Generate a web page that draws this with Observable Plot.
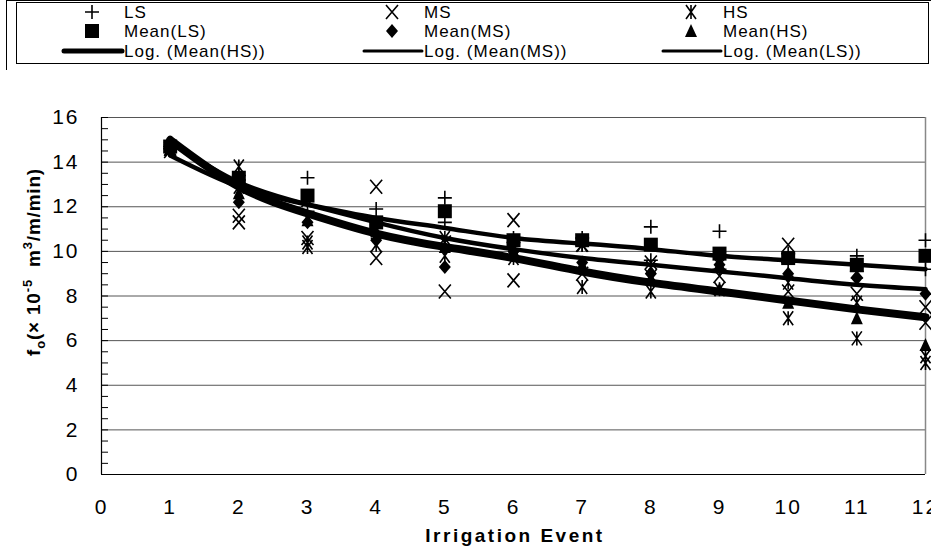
<!DOCTYPE html>
<html><head><meta charset="utf-8">
<script src="https://cdn.jsdelivr.net/npm/d3@7"></script>
<script src="https://cdn.jsdelivr.net/npm/@observablehq/plot@0.6"></script>
<style>
body{margin:0;background:#fff;font-family:"Liberation Sans",Arial,sans-serif;}
#wrap{position:relative;width:931px;height:554px;overflow:hidden;background:#fff;}
#frame{position:absolute;left:6px;top:0px;width:960px;height:600px;border-left:1px solid #000;border-top:1px solid #000;}
#legend{position:absolute;left:0;top:0;}
#chart{position:absolute;left:0;top:70px;}
</style></head><body>
<div id="wrap"><div id="frame"></div><svg id="legend" width="931" height="70"></svg><div id="chart"></div></div>
<script>
// ---- data ----
const events = [1,2,3,4,5,6,7,8,9,10,11,12];
const xTicks = [0,1,2,3,4,5,6,7,8,9,10,11,12];
const yTicks = [0,2,4,6,8,10,12,14,16];
// individual replicates
const LS_a = [14.6, 13.2, 13.3, 11.9, 12.4, 10.6, 10.6, 11.1, 10.9, 9.9, 9.8, 10.5];
const LS_b = [14.7, 13.4, 11.8, 10.8, 11.3, 10.4, 10.3, 9.6, 9.2, 9.5, 9.1, 9.2];
const MS_a = [14.6, 11.6, 12.3, 12.9, 10.4, 11.4, 10.3, 9.5, 9.4, 10.3, 9.1, 7.5];
const MS_b = [14.5, 11.3, 10.6, 9.7, 8.2, 8.7, 9.0, 8.9, 8.9, 8.2, 8.1, 6.8];
const HS_a = [14.6, 13.8, 10.4, 11.0, 10.6, 10.1, 10.3, 9.3, 9.5, 8.6, 7.7, 5.3];
const HS_b = [14.6, 12.9, 10.2, 10.3, 9.8, 9.7, 8.4, 8.2, 8.3, 7.0, 6.1, 5.0];
// means
const MeanLS = [14.7, 13.3, 12.5, 11.3, 11.8, 10.5, 10.5, 10.3, 9.9, 9.7, 9.4, 9.8];
const MeanMS = [14.5, 12.2, 11.3, 10.5, 9.3, 10.0, 9.5, 9.0, 9.4, 9.0, 8.8, 8.1];
const MeanHS = [14.6, 12.6, 11.4, 10.9, 10.2, 10.0, 9.4, 8.8, 8.3, 7.7, 7.0, 5.8];
// logarithmic trend lines, read at each event
const TrendLS = [14.3, 12.9, 12.1, 11.5, 11.05, 10.6, 10.35, 10.1, 9.8, 9.6, 9.4, 9.2];
const TrendMS = [14.9, 13.1, 12.1, 11.3, 10.6, 10.1, 9.7, 9.4, 9.1, 8.8, 8.5, 8.3];
const TrendHS = [15.0, 12.9, 11.7, 10.8, 10.2, 9.7, 9.1, 8.6, 8.2, 7.8, 7.4, 7.05];

const toRows = arr => events.map((e, i) => ({x: e, y: arr[i]}));

// ---- marker shapes (Excel-like) ----
const symPlus = {draw(c){const r=7;c.moveTo(-r,0);c.lineTo(r,0);c.moveTo(0,-r);c.lineTo(0,r);}};
const symTimes = {draw(c){const w=6,h=7;c.moveTo(-w,-h);c.lineTo(w,h);c.moveTo(-w,h);c.lineTo(w,-h);}};
const symStar = {draw(c){const w=5,h=7;c.moveTo(-w,-h);c.lineTo(w,h);c.moveTo(-w,h);c.lineTo(w,-h);c.moveTo(0,-h);c.lineTo(0,h);}};
const symSquare = {draw(c){const r=7;c.moveTo(-r,-r);c.lineTo(r,-r);c.lineTo(r,r);c.lineTo(-r,r);c.closePath();}};
const symDiamond = {draw(c){c.moveTo(0,-7);c.lineTo(6,0);c.lineTo(0,7);c.lineTo(-6,0);c.closePath();}};
const symTriangle = {draw(c){c.moveTo(0,-7);c.lineTo(6,6);c.lineTo(-6,6);c.closePath();}};

const strokeDot = (arr, sym) => Plot.dot(toRows(arr), {x:"x", y:"y", symbol: sym, r: 7, stroke:"black", fill:"none", strokeWidth:1.6});
const fillDot = (arr, sym) => Plot.dot(toRows(arr), {x:"x", y:"y", symbol: sym, r: 7, fill:"black", stroke:"none"});
const trend = (arr, w) => Plot.line(toRows(arr), {x:"x", y:"y", stroke:"black", strokeWidth:w, curve:"natural", strokeLinejoin:"round"});

const minorTicks = d3.range(0, 16.01, 0.5);

const chart = Plot.plot({
  width: 931,
  height: 484,
  marginLeft: 101,
  marginRight: 6,
  marginTop: 47,
  marginBottom: 80,
  style: {fontFamily: "'Liberation Sans', Arial, sans-serif", fontSize: "21px", color: "black", background: "white"},
  x: {domain: [0, 12], label: null},
  y: {domain: [0, 16], label: null},
  marks: [
    Plot.ruleY(yTicks, {stroke: "#555", strokeWidth: 1}),
    Plot.ruleX([12], {stroke: "#888", strokeWidth: 1.5}),
    Plot.ruleX([0], {stroke: "black", strokeWidth: 1.2}),
    Plot.ruleY([0], {stroke: "black", strokeWidth: 1.2}),
    Plot.axisY({ticks: minorTicks, tickSize: -7, tickFormat: () => "", stroke: "black", label: null}),
    Plot.axisY({ticks: yTicks, tickSize: 0, tickPadding: 22, fontSize: 21, tickFormat: d3.format("d"), label: null}),
    Plot.axisX({ticks: xTicks, tickSize: 0, tickPadding: 25, fontSize: 21, tickFormat: d3.format("d"), label: null}),
    strokeDot(LS_a, symPlus), strokeDot(LS_b, symPlus),
    strokeDot(MS_a, symTimes), strokeDot(MS_b, symTimes),
    strokeDot(HS_a, symStar), strokeDot(HS_b, symStar),
    fillDot(MeanLS, symSquare),
    fillDot(MeanMS, symDiamond),
    fillDot(MeanHS, symTriangle),
    trend(TrendLS, 4.5),
    trend(TrendMS, 4.5),
    trend(TrendHS, 8)
  ]
});
document.getElementById("chart").appendChild(chart);

const svg = d3.select(chart);
svg.selectAll("text").style("letter-spacing", "2px");
// x title
svg.append("text").attr("x", 515).attr("y", 472).attr("text-anchor", "middle")
  .attr("font-weight", "bold").attr("font-size", 19).style("letter-spacing", "2.5px")
  .text("Irrigation Event");
// y title with sub/superscripts
const yt = svg.append("text").attr("transform", "translate(40,192) rotate(-90)")
  .attr("text-anchor", "middle").attr("font-weight", "bold").attr("font-size", 19).style("letter-spacing", "0.8px");
yt.append("tspan").text("f");
yt.append("tspan").attr("font-size", 13).attr("dy", 5).text("o");
yt.append("tspan").attr("dy", -5).text("(× 10");
yt.append("tspan").attr("font-size", 13).attr("dy", -8).text("-5");
yt.append("tspan").attr("dy", 8).text("  m");
yt.append("tspan").attr("font-size", 13).attr("dy", -8).text("3");
yt.append("tspan").attr("dy", 8).text("/m/min)");

// ---- legend ----
const lg = d3.select("#legend");
lg.append("rect").attr("x", 16.5).attr("y", 2.5).attr("width", 912).attr("height", 61)
  .attr("fill", "white").attr("stroke", "black");
const cols = [
  {tx: 124, mk: 92, s1: symPlus, l1: "LS", s2: symSquare, l2: "Mean(LS)", lw: 5, l3: "Log. (Mean(HS))"},
  {tx: 424, mk: 392, s1: symTimes, l1: "MS", s2: symDiamond, l2: "Mean(MS)", lw: 3, l3: "Log. (Mean(MS))"},
  {tx: 723, mk: 691, s1: symStar, l1: "HS", s2: symTriangle, l2: "Mean(HS)", lw: 3, l3: "Log. (Mean(LS))"}
];
const rows = [12, 31, 51];
for (const c of cols) {
  lg.append("path").attr("d", d3.symbol(c.s1)()).attr("transform", `translate(${c.mk},${rows[0]})`)
    .attr("fill", "none").attr("stroke", "black").attr("stroke-width", 1.6);
  lg.append("path").attr("d", d3.symbol(c.s2)()).attr("transform", `translate(${c.mk},${rows[1]})`)
    .attr("fill", "black");
  lg.append("line").attr("x1", c.tx - 60).attr("x2", c.tx - 2).attr("y1", rows[2]).attr("y2", rows[2])
    .attr("stroke", "black").attr("stroke-width", c.lw).attr("stroke-linecap", "round");
  [c.l1, c.l2, c.l3].forEach((t, i) => {
    lg.append("text").attr("x", c.tx).attr("y", rows[i]).attr("dy", "0.36em")
      .attr("font-size", 17).style("letter-spacing", "1px").text(t);
  });
}
</script>
</body></html>
